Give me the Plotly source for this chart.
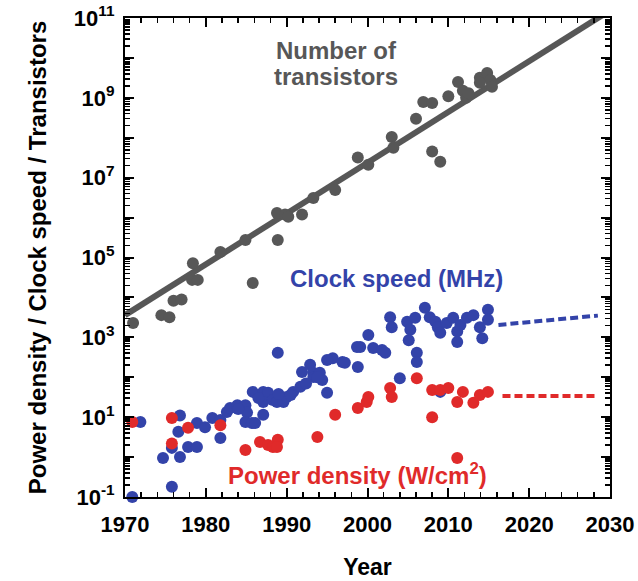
import plotly.graph_objects as go

# ---------------- data ----------------
trans_year = [1971, 1974.5, 1975.5, 1976, 1977, 1978.4, 1978.3, 1979, 1981.8, 1984.9,
              1985.8, 1988.9, 1988.8, 1989.8, 1990.2, 1991.9, 1993.3, 1996, 1998.8, 2000.1,
              2003, 2003.2, 2006, 2006.9, 2008, 2008, 2009, 2010, 2011.2, 2011.8,
              2012.2, 2012.5, 2013.9, 2014.8, 2015.2, 2013.9, 2015.4]
trans_val = [2300, 3600, 3200, 8300, 8900, 72000, 27500, 27500, 138000, 275000,
             23000, 275000, 1.3e6, 1.2e6, 1.05e6, 1.2e6, 3.1e6, 4.9e6, 3.2e7, 2.1e7,
             1.05e8, 5.6e7, 3.0e8, 7.9e8, 7.4e8, 4.5e7, 2.5e7, 1.1e9, 2.5e9, 1.5e9,
             1.0e9, 1.3e9, 3.2e9, 4.2e9, 2.8e9, 2.4e9, 1.9e9]

trend_year = [1970, 2030]
trend_val = [3.6e3, 1.55e11]

clock_year = [1970.9, 1971.9, 1974.7, 1975.8, 1976.8, 1975.8, 1976.8, 1976.6, 1977.8, 1978.9,
              1978.9, 1979.9, 1980.8, 1981.8, 1981.8, 1982.6, 1983, 1983.9, 1984.9, 1985.1,
              1984.9, 1985.7, 1986.1, 1987.1, 1985.8, 1987.1, 1987.7, 1987.1, 1988.3, 1988.8,
              1989.6, 1990, 1988.9, 1990.8, 1991.7, 1991.9, 1992.9, 1993.3, 1993.3, 1994.1,
              1994.4, 1995, 1995.7, 1996.9, 1998.8, 1999.1, 2000.1, 2000.7, 2001.8, 2002.2,
              2002.8, 2003, 2004, 2004.9, 2005.3, 2005.1, 2005.9, 2006.1, 2006.1, 2007.1,
              2007.7, 2008.4, 2008.7, 2009, 2009.8, 2010.6, 2011.1, 2011.5, 2012.3, 2013.1,
              2013.9, 2014.2, 2014.9, 2014.9, 2011.1, 2009, 1995, 1997.2, 1993.8, 1998.7,
              1986.5, 1989.0, 1990.5, 1984.0, 1992.4]
clock_val = [0.1, 7.6, 0.95, 0.18, 1.0, 1.7, 11, 4.3, 1.8, 1.8,
             7.1, 5.6, 9.5, 8.5, 3.0, 13.5, 17, 20, 20, 13,
             7.6, 7.1, 7.1, 11.5, 43, 43, 41, 24, 27, 24,
             24, 32, 410, 43, 58, 135, 205, 130, 102, 130,
             85, 41, 300, 240, 180, 575, 1150, 540, 480, 410,
             3200, 1800, 95, 2450, 1550, 850, 3100, 410, 240, 5500,
             3200, 2450, 1800, 1300, 2300, 3100, 1400, 2050, 3100, 3600,
             1800, 950, 4900, 2750, 760, 43, 270, 230, 100, 575,
             30, 38, 36, 16, 70]

power_year = [1970.9, 1975.8, 1975.8, 1977.8, 1981.8, 1984.9, 1986.7, 1987.7, 1988.3, 1988.9,
              1988.8, 1993.8, 1996, 1998.8, 1999.9, 2000.1, 2002.8, 2003, 2006.1, 2008,
              2009, 2010, 2011.1, 2011.8, 2013.1, 2013.9, 2014.9, 2008, 2011.1]
power_val = [7.6, 9.5, 2.2, 5.4, 6.3, 1.5, 2.4, 2.0, 1.8, 2.7,
             1.8, 3.2, 11.5, 17, 24, 32, 54, 32, 95, 48,
             48, 54, 24, 43, 23, 36, 43, 10, 0.95]

clock_trend_year = [2016.2, 2028.5]
clock_trend_val = [2050, 3500]
power_trend_year = [2016.7, 2028.5]
power_trend_val = [34, 34]

x_tick_vals = [1970, 1980, 1990, 2000, 2010, 2020, 2030]
x_tick_text = ["1970", "1980", "1990", "2000", "2010", "2020", "2030"]
y_exponents = list(range(-1, 12))

# ---------------- styling ----------------
GRAY = "#575757"
BLUE = "#3343a9"
RED = "#e02a2a"
FONT = "Arial, Liberation Sans, Helvetica, sans-serif"

W, H = 638, 581
L, R, T, B = 125, 28, 18, 84
PW, PH = W - L - R, H - T - B


def px(x):
    return (x - L) / PW


def py(y):
    return (H - B - y) / PH


y_tick_vals = [10.0 ** e for e in y_exponents]
y_tick_text = [f"10<sup>{e}</sup>" if e % 2 else "" for e in y_exponents]
y_minor = [k * 10.0 ** e for e in y_exponents[:-1] for k in range(2, 10)]

fig = go.Figure()

fig.add_trace(go.Scatter(x=trend_year, y=trend_val, mode="lines",
                         line=dict(color=GRAY, width=6), showlegend=False, hoverinfo="skip"))
fig.add_trace(go.Scatter(x=trans_year, y=trans_val, mode="markers",
                         marker=dict(color=GRAY, size=12), showlegend=False, cliponaxis=False))
fig.add_trace(go.Scatter(x=clock_year, y=clock_val, mode="markers",
                         marker=dict(color=BLUE, size=12), showlegend=False, cliponaxis=False))
fig.add_trace(go.Scatter(x=power_year, y=power_val, mode="markers",
                         marker=dict(color=RED, size=12), showlegend=False, cliponaxis=False))
fig.add_trace(go.Scatter(x=clock_trend_year, y=clock_trend_val, mode="lines",
                         line=dict(color=BLUE, width=4, dash="8px,4px"), showlegend=False))
fig.add_trace(go.Scatter(x=power_trend_year, y=power_trend_val, mode="lines",
                         line=dict(color=RED, width=4, dash="8px,4px"), showlegend=False))

ann_font = dict(family=FONT, size=24, weight="bold")
annotations = [
    dict(text="Number of", x=px(336), y=py(50), color=GRAY),
    dict(text="transistors", x=px(336), y=py(76), color=GRAY),
    dict(text="Clock speed (MHz)", x=px(396), y=py(278), color=BLUE),
    dict(text="Power density (W/cm<sup>2</sup>)", x=px(357), y=py(474), color=RED),
]
for a in annotations:
    fig.add_annotation(text=a["text"], x=a["x"], y=a["y"], xref="paper", yref="paper",
                       showarrow=False, xanchor="center", yanchor="middle",
                       font=dict(ann_font, color=a["color"]))

axis_common = dict(showline=True, linecolor="black", linewidth=2, mirror="ticks",
                   ticks="inside", tickcolor="black", tickwidth=2, ticklen=9,
                   showgrid=False, zeroline=False,
                   tickfont=dict(family=FONT, size=22, color="black", weight="bold"))

fig.update_xaxes(**axis_common, range=[1970, 2030], tickmode="array",
                 tickvals=x_tick_vals, ticktext=x_tick_text, ticklabelstandoff=7,
                 minor=dict(ticks="inside", ticklen=5, tickwidth=1.5, tickcolor="black",
                            dtick=2, tick0=1970, showgrid=False),
                 title=dict(text="Year", font=dict(family=FONT, size=23, color="black", weight="bold"),
                            standoff=22))
fig.update_yaxes(**axis_common, type="log", range=[-1, 11], tickmode="array",
                 tickvals=y_tick_vals, ticktext=y_tick_text, ticklabelstandoff=4,
                 minor=dict(ticks="inside", ticklen=5, tickwidth=1.5, tickcolor="black",
                            tickmode="array", tickvals=y_minor, showgrid=False),
                 title=dict(text="Power density / Clock speed / Transistors",
                            font=dict(family=FONT, size=24, color="black", weight="bold"),
                            standoff=20))

fig.update_layout(width=W, height=H, margin=dict(l=L, r=R, t=T, b=B, autoexpand=False),
                  paper_bgcolor="white", plot_bgcolor="white", showlegend=False,
                  font=dict(family=FONT))

fig.write_html("out.html", config={"displayModeBar": False, "staticPlot": True},
               post_script="document.body.style.margin='0';")
